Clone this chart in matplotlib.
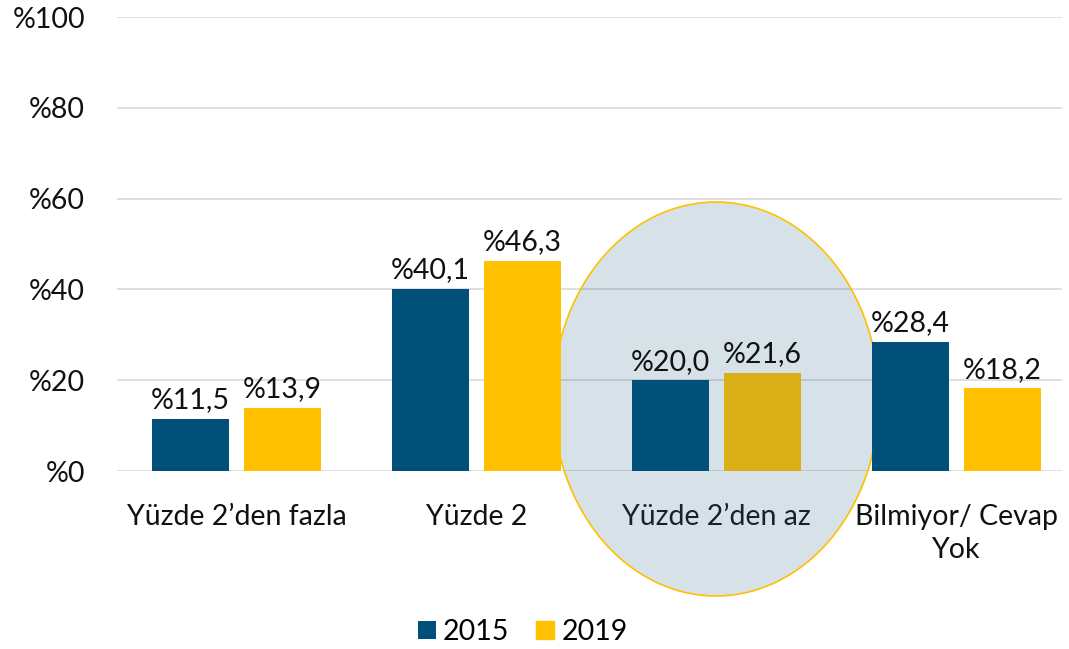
import matplotlib
matplotlib.use("Agg")
import matplotlib.pyplot as plt
from matplotlib.patches import Ellipse
import numpy as np

categories = ["Yüzde 2’den fazla", "Yüzde 2", "Yüzde 2’den az", "Bilmiyor/ Cevap\nYok"]
years = ["2015", "2019"]
values_2015 = [11.5, 40.1, 20.0, 28.4]
values_2019 = [13.9, 46.3, 21.6, 18.2]
yticks = [0, 20, 40, 60, 80, 100]
highlight = 2

c2015 = "#00507A"
c2019 = "#FFC000"
c2019_hl = "#DAB016"

plt.rcParams['font.family'] = ['Lato', 'DejaVu Sans']
FS = 20.5

fig = plt.figure(figsize=(10.69, 6.49), dpi=100)
W, H = 1069, 649
ax_left, ax_right = 116.5, 1062
y0_px, y100_px = 471, 17
ax = fig.add_axes([ax_left / W, 1 - y0_px / H, (ax_right - ax_left) / W, (y0_px - y100_px) / H])

x = np.arange(len(categories))
bw = 77 / 240
off = 46 / 240
cols19 = [c2019_hl if i == highlight else c2019 for i in range(len(categories))]
b1 = ax.bar(x - off, values_2015, bw, color=c2015, label=years[0], zorder=3)
b2 = ax.bar(x + off, values_2019, bw, color=cols19, label=years[1], zorder=3)

for bars, vals in ((b1, values_2015), (b2, values_2019)):
    for r, v in zip(bars, vals):
        ax.annotate("%" + f"{v:.1f}".replace(".", ","),
                    (r.get_x() + r.get_width() / 2, v), xytext=(0, 4),
                    textcoords="offset points", ha="center", va="bottom",
                    fontsize=FS, color="#111111", zorder=6)

ax.set_xlim(-0.5, 3.5 + (ax_right - 1076.5) / 240)
ax.set_ylim(0, 100)
ax.set_yticks(yticks)
ax.set_yticklabels(["%" + str(t) for t in yticks], fontsize=FS, color="#111111")
ax.set_xticks(x)
ax.set_xticklabels(categories, fontsize=FS, color="#111111", linespacing=1.3)
ax.tick_params(axis="y", length=0, pad=22.5)
ax.tick_params(axis="x", length=0, pad=24)
ax.grid(axis="y", color="#D9D9D9", linewidth=1.2, zorder=0)
ax.set_axisbelow(True)
for s in ax.spines.values():
    s.set_visible(False)

# highlight ellipse behind bars
ax.add_patch(Ellipse((2.0 + (716 - 716.5) / 240, (471 - 399) / 4.54), width=326 / 240,
                     height=394 / 4.54, facecolor=(0.22, 0.41, 0.55, 0.2),
                     edgecolor=c2019, linewidth=1.2, zorder=1, clip_on=False))

leg = fig.legend(handles=[b1, b2], labels=years, loc="center", bbox_to_anchor=(522.5 / W, 1 - 632 / H),
                 ncol=2, frameon=False, fontsize=FS, handlelength=0.63, handleheight=0.63,
                 handletextpad=0.25, columnspacing=0.95)
leg.legend_handles[1].set_color(c2019)

fig.savefig("out.png", dpi=100)
